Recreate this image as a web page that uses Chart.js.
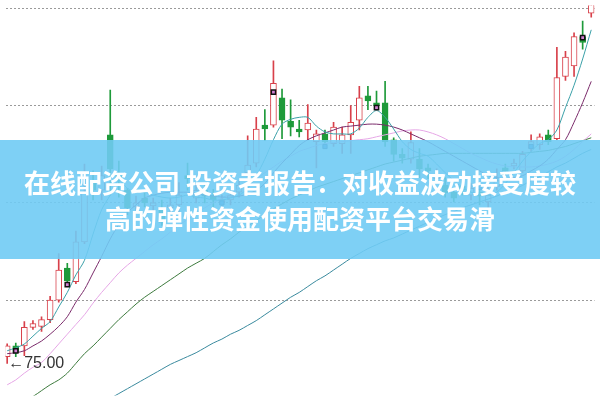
<!DOCTYPE html>
<html><head><meta charset="utf-8">
<script src="https://cdn.jsdelivr.net/npm/chart.js@4.4.0/dist/chart.umd.min.js"></script>
<style>
html,body{margin:0;padding:0;background:#fff;}
#wrap{position:relative;width:600px;height:401px;overflow:hidden;background:#fff;}
#c{position:absolute;left:0;top:0;}
#banner{position:absolute;left:0;top:140px;width:600px;height:119px;background:rgba(112,203,244,0.9);}
#btext{position:absolute;left:0;top:140px;width:600px;height:119px;display:flex;flex-direction:column;justify-content:center;align-items:center;color:#fff;font:bold 26px "Noto Sans CJK SC","Noto Sans",sans-serif;line-height:36px;text-align:center;}
#lowlbl{position:absolute;font:16px "Liberation Sans",Arial,sans-serif;color:#333;white-space:nowrap;line-height:18px;}
</style></head>
<body>
<div id="wrap">
<canvas id="c" width="600" height="401"></canvas>
<div id="banner"></div>
<div id="btext"><div>在线配资公司 投资者报告：对收益波动接受度较</div><div>高的弹性资金使用配资平台交易滑</div></div>
<div id="lowlbl">←75.00</div>
</div>
<script>
const openP = [75.7,76.8,76.8,78.7,78.8,79.5,81.5,84.8,83.4,87.5,
93.8,92.8,98.5,94.3,92.8,91.1,92.0,91.2,91.0,91.0,
91.3,94.3,92.0,92.8,92.3,91.5,91.8,92.6,94.6,95.6,
99.5,99.5,102.3,99.9,99.1,99.0,97.8,98.6,97.6,97.6,
98.5,100.0,102.5,101.8,101.8,98.0,96.5,96.0,96.0,95.1,
94.0,93.3,92.6,93.2,92.3,92.6,91.6,93.2,95.1,95.3,
94.8,97.1,97.5,98.5,98.1,104.5,105.6,108.6,111.0];
const highP = [77.0,77.1,79.3,79.4,79.8,81.9,86.3,85.3,88.6,95.5,
94.8,95.3,103.1,95.8,93.0,92.2,92.6,92.0,91.8,92.0,
93.6,95.6,93.5,93.3,92.9,92.3,92.8,93.8,98.4,100.3,
101.1,106.1,103.2,102.1,100.0,101.6,99.0,99.0,99.8,99.3,
101.5,103.5,103.5,103.0,104.0,98.2,97.1,98.8,97.1,95.5,
95.0,94.1,93.0,93.8,93.5,93.0,93.1,95.0,95.5,96.0,
96.8,98.5,98.6,99.0,107.5,107.1,109.0,110.2,112.8];
const lowP = [75.0,75.7,75.8,78.5,78.3,79.2,81.3,83.0,83.2,87.3,
91.8,91.8,92.3,92.1,90.3,90.6,91.1,90.6,89.2,90.3,
90.3,92.8,91.5,91.5,91.0,91.2,91.3,92.1,94.2,95.2,
97.9,99.3,98.1,98.4,98.3,98.0,95.1,97.1,97.3,96.6,
96.6,99.0,101.1,101.1,97.3,95.8,95.6,95.6,94.1,94.0,
93.6,92.1,91.6,92.3,91.8,91.3,91.0,92.8,94.3,95.0,
94.6,96.8,97.0,97.5,98.0,104.1,104.5,107.3,110.6];
const closeP = [76.8,76.1,78.7,79.1,79.5,81.5,84.6,83.5,87.5,92.5,
92.8,94.3,95.0,93.8,91.0,91.5,91.5,91.5,89.5,91.3,
92.3,94.0,92.8,92.2,91.8,91.9,92.3,93.3,95.4,99.1,
99.1,103.8,100.0,99.3,98.8,99.7,98.6,97.8,99.3,98.5,
99.8,102.3,102.0,101.5,97.8,96.5,96.1,97.7,95.0,94.8,
94.4,92.5,92.0,92.8,93.0,92.2,92.3,93.8,94.8,95.6,
96.5,97.8,98.3,97.8,104.4,106.5,108.6,108.0,112.3];
const ma5 = [76.3,76.6,77.0,77.8,78.6,79.3,80.8,82.3,84.1,85.6,
88.3,90.8,92.3,93.8,93.0,92.6,92.6,92.3,92.1,92.0,
92.1,92.3,92.1,92.0,91.8,91.8,92.0,92.3,93.0,94.3,
96.0,98.0,99.6,100.1,100.3,100.3,99.4,98.8,98.6,98.6,
98.6,99.2,100.3,101.0,100.3,99.1,97.8,97.0,96.6,96.3,
95.5,94.6,93.8,93.1,92.6,92.4,92.3,92.6,93.5,94.6,
95.8,96.8,97.6,98.0,99.0,101.3,103.6,106.3,109.3];
const ma10 = [76.0,76.1,76.3,76.8,77.3,78.0,78.8,79.8,81.3,82.6,
84.3,86.0,87.8,89.3,90.5,91.3,92.0,92.3,92.5,92.6,
92.6,92.6,92.5,92.3,92.2,92.1,92.1,92.2,92.4,92.8,
93.5,94.6,95.6,96.5,97.4,98.0,98.4,98.7,99.0,99.3,
99.4,99.5,99.6,99.6,99.5,99.3,99.0,98.6,98.2,97.8,
97.3,96.8,96.3,95.8,95.3,94.8,94.3,94.1,94.0,94.1,
94.3,94.8,95.3,96.0,97.0,98.0,99.8,101.8,104.0];
const ma20 = [72.8,73.3,74.0,74.6,75.1,76.0,77.0,78.0,79.0,80.0,
81.2,82.3,83.3,84.3,85.1,85.8,86.5,87.2,87.8,88.5,
89.2,89.8,90.4,91.0,91.5,92.0,92.5,93.0,93.5,94.0,
94.6,95.2,95.8,96.3,96.8,97.1,97.4,97.6,97.7,97.8,
97.9,98.0,98.1,98.3,98.5,98.7,98.9,99.0,99.0,98.8,
98.5,98.1,97.6,97.1,96.6,96.2,95.8,95.5,95.3,95.2,
95.2,95.2,95.3,95.5,95.8,96.3,97.0,97.8,98.6];
const ma30 = [70.3,70.7,71.2,71.6,72.2,72.8,73.3,74.0,75.0,76.0,
76.8,77.7,78.6,79.5,80.3,81.1,81.8,82.4,83.0,83.6,
84.2,84.8,85.3,85.8,86.5,87.2,87.8,88.5,89.1,89.7,
90.3,90.9,91.4,91.9,92.3,92.7,93.1,93.4,93.7,94.0,
94.3,94.6,94.9,95.2,95.5,95.7,95.9,96.1,96.3,96.4,
96.5,96.6,96.6,96.6,96.6,96.6,96.6,96.6,96.6,96.6,
96.6,96.7,96.8,96.9,97.1,97.3,97.6,97.9,98.2];
const ma60 = [null,null,null,null,null,null,null,null,null,null,
null,null,71.4,71.9,72.4,72.9,73.4,73.9,74.4,74.9,
75.3,75.7,76.1,76.6,77.1,77.5,78.0,78.4,78.9,79.4,
80.0,80.6,81.2,81.8,82.3,82.9,83.5,84.0,84.6,85.2,
85.8,86.3,86.8,87.2,87.6,87.9,88.3,88.7,89.1,89.5,
89.9,90.3,90.6,91.0,91.3,91.6,91.9,92.2,92.6,92.9,
93.3,93.8,94.2,94.7,95.2,95.6,96.1,96.6,97.0];
const darkMarkIdx = [1,7,31,43,67];
const darkMarkVal = [76.3,83.1,102.9,101.3,108.5];
const blueMarkIdx = [25,37,55,61];
const blueMarkVal = [91.5,97.3,93.1,97.3];
const gridLevels = [81.5,91.5,101.5,111.5];
const lowestLabel = {index:0, value:75.00, text:'←75.00'};

const UP = '#d8404a', DOWN = '#1e9a3a';
const idx = openP.map((_, i) => i);
const isUp = idx.map(i => closeP[i] >= openP[i]);
const wicks = idx.map(i => ({x:i, y:[lowP[i], highP[i]]}));
const bodies = idx.map(i => ({x:i, y:[openP[i], closeP[i]]}));
const line = (arr, color) => ({type:'line', data: idx.map(i => ({x:i, y:arr[i]})), borderColor:color, borderWidth:1, pointRadius:0, tension:0.3, spanGaps:false, order:0});

const lblPlugin = {
  id:'lbl',
  afterDraw(chart){
    const xs = chart.scales.x, ys = chart.scales.y;
    const el = document.getElementById('lowlbl');
    el.textContent = lowestLabel.text;
    el.style.left = (xs.getPixelForValue(lowestLabel.index) + 1) + 'px';
    el.style.top = (ys.getPixelForValue(lowestLabel.value) - 9) + 'px';
  }
};

new Chart(document.getElementById('c'), {
  type:'bar',
  data:{datasets:[
    line(ma5,'#3aa0a8'),
    line(ma10,'#7a2a6a'),
    line(ma20,'#e6a6e6'),
    line(ma30,'#3d7a3d'),
    line(ma60,'#3a8a9e'),
    {type:'scatter', data: darkMarkIdx.map((v,k)=>({x:v,y:darkMarkVal[k]})), pointStyle:'rect', pointRadius:3, backgroundColor:'#d080d0', borderColor:'#111', borderWidth:1.5, order:-1},
    {type:'scatter', data: blueMarkIdx.map((v,k)=>({x:v,y:blueMarkVal[k]})), pointStyle:'rect', pointRadius:3, backgroundColor:'#3a78c8', borderColor:'#1a3a6a', borderWidth:1, order:-1},
    {type:'bar', data:bodies, grouped:false, barThickness:6, minBarLength:1,
      backgroundColor: idx.map(i => isUp[i] ? '#ffffff' : DOWN),
      borderColor: idx.map(i => isUp[i] ? UP : DOWN),
      borderWidth:1, borderSkipped:false, order:1},
    {type:'bar', data:wicks, grouped:false, barThickness:1,
      backgroundColor: idx.map(i => isUp[i] ? UP : DOWN), borderWidth:0, order:2}
  ]},
  options:{
    responsive:false, animation:false, devicePixelRatio:1,
    layout:{padding:0},
    plugins:{legend:{display:false}, tooltip:{enabled:false}},
    scales:{
      x:{type:'linear', min:-0.195, max:68.38, offset:false, display:false, grid:{offset:false}},
      y:{type:'linear', min:71.7, max:111.8, display:true,
        afterBuildTicks:(s)=>{ s.ticks = gridLevels.map(v=>({value:v})); },
        ticks:{display:false},
        grid:{color:'#9a9a9a', lineWidth:1, drawTicks:false},
        border:{display:false, dash:[2,2]}
      }
    }
  },
  plugins:[lblPlugin]
});
</script>
</body></html>
